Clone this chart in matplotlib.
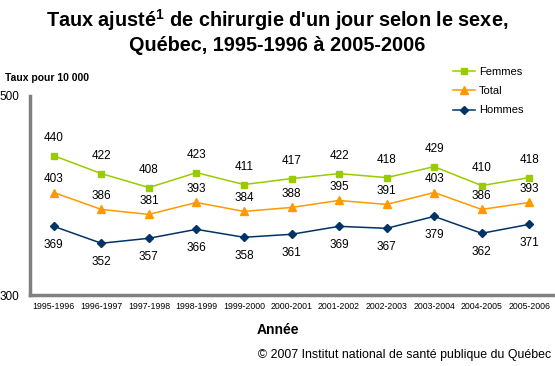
import matplotlib.pyplot as plt

plt.rcParams['font.family'] = ['Liberation Sans', 'DejaVu Sans']
plt.rcParams['mathtext.fontset'] = 'custom'
plt.rcParams['mathtext.rm'] = 'Liberation Sans'
plt.rcParams['mathtext.bf'] = 'Liberation Sans:bold'

annees = ["1995-1996", "1996-1997", "1997-1998", "1998-1999", "1999-2000",
          "2000-2001", "2001-2002", "2002-2003", "2003-2004", "2004-2005",
          "2005-2006"]
femmes = [440, 422, 408, 423, 411, 417, 422, 418, 429, 410, 418]
total = [403, 386, 381, 393, 384, 388, 395, 391, 403, 386, 393]
hommes = [369, 352, 357, 366, 358, 361, 369, 367, 379, 362, 371]

fig = plt.figure(figsize=(5.55, 3.66), dpi=100)
W, H = 555, 366
ax = fig.add_axes([30 / W, (H - 295) / H, 523 / W, (295 - 96) / H])

x = range(len(annees))
series = [
    ("Femmes", femmes, "#99CC00", "s", 5, 12.5),
    ("Total", total, "#FF9900", "^", 6, 9.5),
    ("Hommes", hommes, "#003366", "D", 4.5, -13.5),
]
for nom, vals, couleur, mk, ms, dy in series:
    ax.plot(x, vals, color=couleur, marker=mk, markersize=ms, lw=1.1, label=nom)
    for xi, v in zip(x, vals):
        ax.annotate(str(v), (xi, v), xytext=(0, dy), textcoords="offset points",
                    ha="center", va="center", fontsize=8.5)

ax.set_xlim(-0.5, 10.5)
ax.set_ylim(300, 500)
ax.set_yticks([300, 500])
ax.set_xticks(list(x))
ax.set_xticklabels(annees, fontsize=6.3)
ax.tick_params(axis="y", length=0, pad=8, labelsize=8.5)
ax.tick_params(axis="x", length=0, pad=5)
for s in ["top", "right"]:
    ax.spines[s].set_visible(False)
for s in ["left", "bottom"]:
    ax.spines[s].set_color("#808080")
    ax.spines[s].set_linewidth(2.5)

ax.legend(loc="upper left", bbox_to_anchor=(447 / W, 1 - 61 / H), bbox_transform=fig.transFigure,
          frameon=False, fontsize=8, handlelength=2.0, handletextpad=0.4,
          labelspacing=0.85, borderpad=0)

fig.text(0.5, 1 - 31 / H, "Taux ajusté$^{\\mathbf{1}}$ de chirurgie d'un jour selon le sexe,\nQuébec, 1995-1996 à 2005-2006",
         ha="center", va="center", fontsize=14.3, fontweight="bold", linespacing=1.15)
fig.text(5 / W, 1 - 78 / H, "Taux pour 10 000", fontsize=7.5, fontweight="bold", va="center")
fig.text(0.5, 1 - 330 / H, "Année", ha="center", va="center", fontsize=10, fontweight="bold")
fig.text(551 / W, 1 - 355 / H, "© 2007 Institut national de santé publique du Québec",
         ha="right", va="center", fontsize=8.9)

fig.savefig("out.png", dpi=100)
